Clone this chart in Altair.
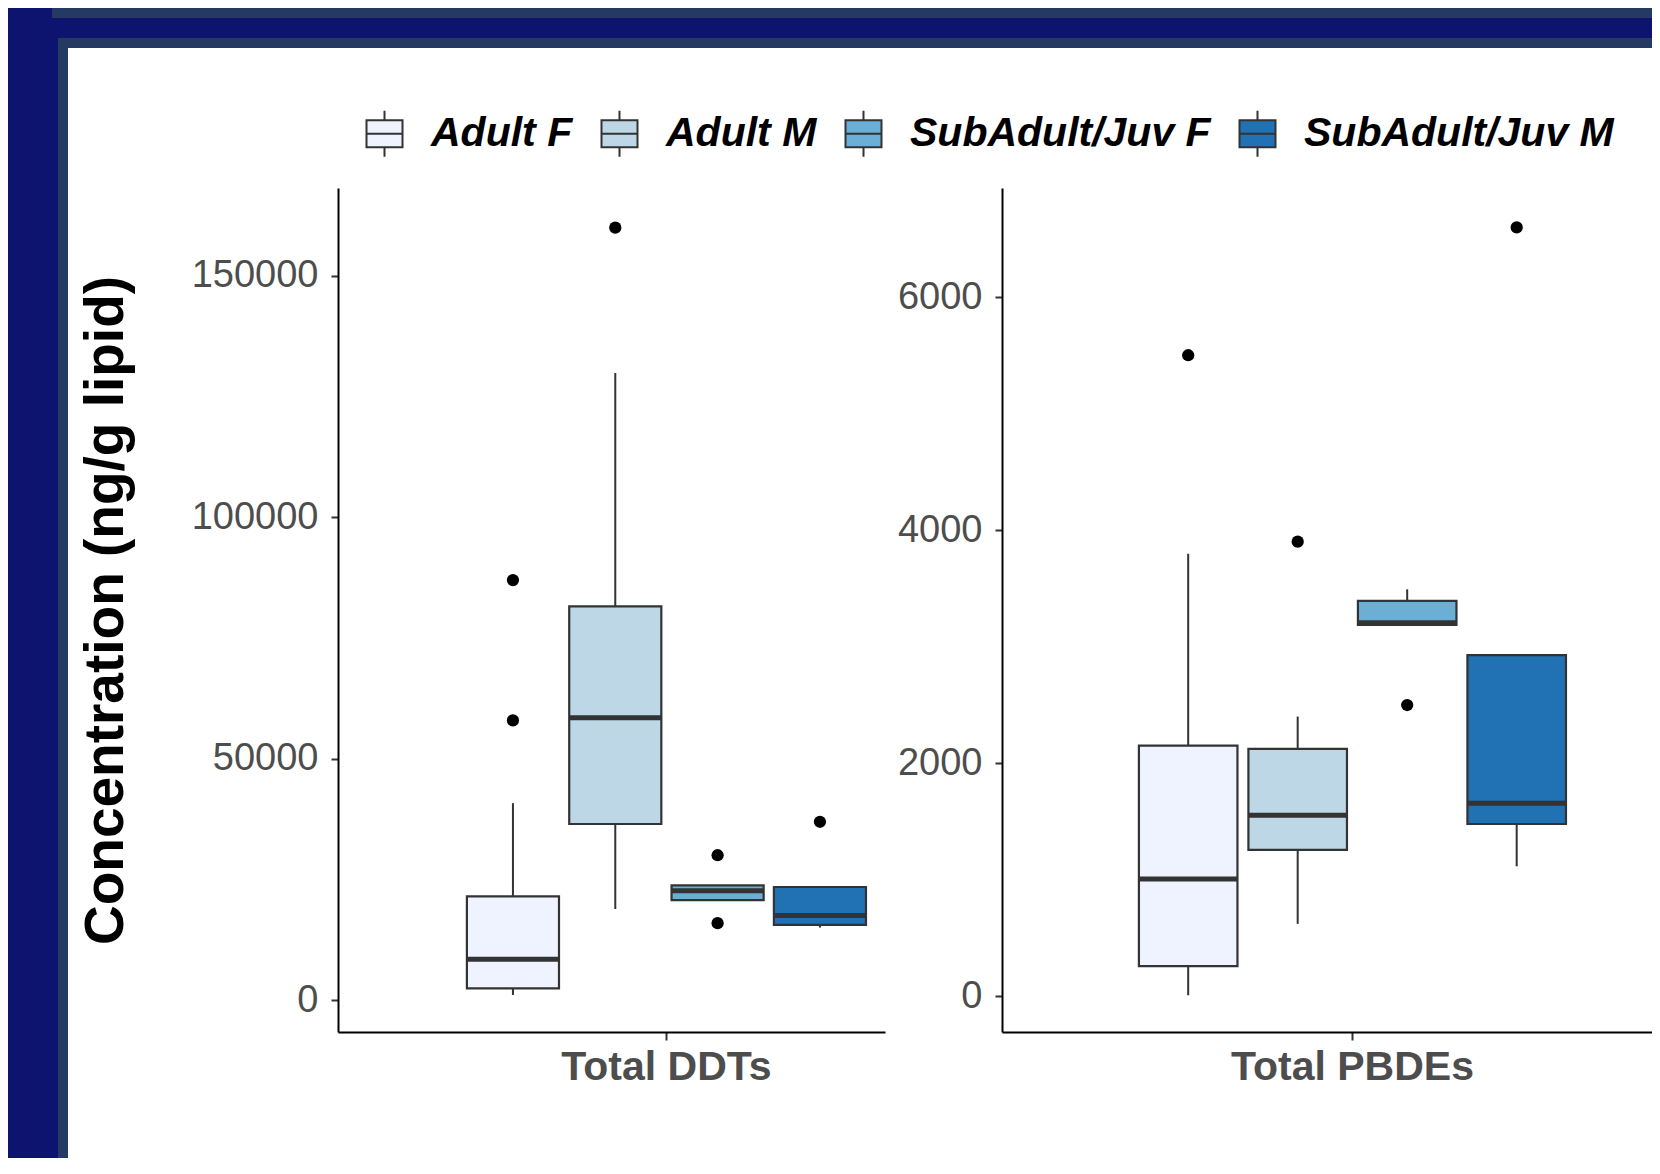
import altair as alt
import pandas as pd

# ---------------- data ----------------
groups = ["Adult F", "Adult M", "SubAdult/Juv F", "SubAdult/Juv M"]
colors = ["#EFF3FF", "#BDD7E7", "#6BAED6", "#2171B5"]

ddt_label = "Total DDTs"
ddt_lo = [1130, 18950, 20760, 15090]
ddt_q1 = [2500, 36530, 20760, 15660]
ddt_med = [8510, 58550, 22690, 17590]
ddt_q3 = [21560, 81580, 23830, 23490]
ddt_hi = [40850, 129910, 23830, 23490]
ddt_out_group = ["Adult F", "Adult F", "Adult M", "SubAdult/Juv F", "SubAdult/Juv F", "SubAdult/Juv M"]
ddt_out_value = [87020, 57980, 159980, 30070, 16000, 36990]
ddt_ticks = [0, 50000, 100000, 150000]

pbde_label = "Total PBDEs"
pbde_lo = [9, 621, 3186, 1115]
pbde_q1 = [259, 1256, 3186, 1478]
pbde_med = [1007, 1553, 3205, 1657]
pbde_q3 = [2151, 2122, 3393, 2927]
pbde_hi = [3798, 2400, 3492, 2927]
pbde_out_group = ["Adult F", "Adult M", "SubAdult/Juv F", "SubAdult/Juv M"]
pbde_out_value = [5501, 3901, 2499, 6598]
pbde_ticks = [0, 2000, 4000, 6000]

y_title = "Concentration (ng/g lipid)"

# ---------------- style ----------------
FONT = "Liberation Sans, Arial, sans-serif"
NAVY = "#0c1470"
FRAME = "#243a63"
DARK = "#333333"
GREY30 = "#4d4d4d"
H = 844
W1, W2 = 547, 650

BOX_PATH = ("M-1,-0.75H1V0.75H-1Z M-1,0H1 M0,-0.75V-1.28 M0,0.75V1.28")

legend = alt.Legend(
    orient="none", legendX=26, legendY=-75, direction="horizontal",
    title=None, padding=0, labelFont=FONT, labelFontSize=41, labelLimit=0,
    labelFontWeight="bold", labelFontStyle="italic", labelColor="black",
    symbolType=BOX_PATH, symbolSize=1296, symbolStrokeColor=DARK,
    symbolStrokeWidth=2, symbolOpacity=1, labelOffset=26, columnPadding=24,
)


def box_frame(lo, q1, med, q3, hi, label):
    return pd.DataFrame({"group": groups, "var": label, "lo": lo, "q1": q1,
                         "med": med, "q3": q3, "hi": hi})


def make_panel(bdf, odf, domain, ticks, width, po, align, boxw, first):
    yaxis = alt.Axis(
        values=ticks, format="d", grid=False,
        labelFont=FONT, labelFontSize=38, labelColor=GREY30, labelPadding=13,
        tickSize=7, tickColor=DARK, tickWidth=2,
        domainColor="black", domainWidth=2,
        zindex=1,
        title=y_title if first else None,
        **(dict(titleFont=FONT, titleFontSize=55, titleFontWeight="bold",
                titleColor="black", titleAngle=270, titleBaseline="middle",
                titleAlign="center", titleX=-233, titleY=H / 2) if first else {}),
    )
    xaxis = alt.Axis(
        title=None, labelAngle=0, labelFont=FONT, labelFontSize=41, labelLimit=0,
        labelFontWeight="bold", labelColor=GREY30, labelPadding=7,
        tickSize=8, tickColor=DARK, tickWidth=2,
        domainColor="black", domainWidth=2, zindex=1,
    )
    yscale = alt.Scale(domain=domain, nice=False, zero=False)
    X = alt.X("var:N", scale=alt.Scale(paddingInner=0, paddingOuter=po, align=align), axis=xaxis)
    XO = alt.XOffset("group:N", scale=alt.Scale(domain=groups, paddingInner=0.1, paddingOuter=0.05))

    def Y(f):
        return alt.Y(f, type="quantitative", scale=yscale, axis=yaxis)

    base = alt.Chart(bdf)
    whisk = base.mark_rule(color=DARK, strokeWidth=2).encode(x=X, xOffset=XO, y=Y("lo"), y2="hi")
    box = base.mark_bar(stroke=DARK, strokeWidth=2.2, opacity=1).encode(
        x=X, xOffset=XO, y=Y("q1"), y2="q3",
        fill=alt.Fill("group:N", scale=alt.Scale(domain=groups, range=colors), legend=legend),
    )
    median = base.mark_tick(color=DARK, thickness=5, size=boxw, opacity=1).encode(
        x=X, xOffset=XO, y=Y("med"))
    pts = alt.Chart(odf).mark_circle(size=150, color="black", opacity=1).encode(
        x=X, xOffset=XO, y=Y("value"))

    layers = []
    if first:
        deco = alt.Chart(pd.DataFrame({"d": [0]}))
        layers += [
            deco.mark_rect(color=NAVY).encode(x=alt.value(-330), x2=alt.value(1314),
                                              y=alt.value(-180), y2=alt.value(970)),
            deco.mark_rect(color=FRAME).encode(x=alt.value(-286), x2=alt.value(1314),
                                               y=alt.value(-180), y2=alt.value(-170)),
            deco.mark_rect(color=FRAME).encode(x=alt.value(-280), x2=alt.value(1314),
                                               y=alt.value(-150), y2=alt.value(970)),
            deco.mark_rect(color="white").encode(x=alt.value(-270), x2=alt.value(1314),
                                                 y=alt.value(-140), y2=alt.value(970)),
        ]
    layers += [whisk, box, median, pts]
    return alt.layer(*layers).properties(width=width, height=H)


ddt_box = box_frame(ddt_lo, ddt_q1, ddt_med, ddt_q3, ddt_hi, ddt_label)
ddt_out = pd.DataFrame({"group": ddt_out_group, "var": ddt_label, "value": ddt_out_value})
pbde_box = box_frame(pbde_lo, pbde_q1, pbde_med, pbde_q3, pbde_hi, pbde_label)
pbde_out = pd.DataFrame({"group": pbde_out_group, "var": pbde_label, "value": pbde_out_value})

p1 = make_panel(ddt_box, ddt_out, [-6524, 168190], ddt_ticks, W1, 0.1682, 0.899, 92, True)
p2 = make_panel(pbde_box, pbde_out, [-307, 6936], pbde_ticks, W2, 0.242, 0.620, 98.5, False)

chart = alt.hconcat(p1, p2, spacing=117, bounds="flush").resolve_scale(
    x="independent", xOffset="independent", y="independent"
).properties(
    padding=0, background=NAVY
).configure_view(stroke=None)

chart.save("out.html", embed_options={"renderer": "svg", "actions": False})
